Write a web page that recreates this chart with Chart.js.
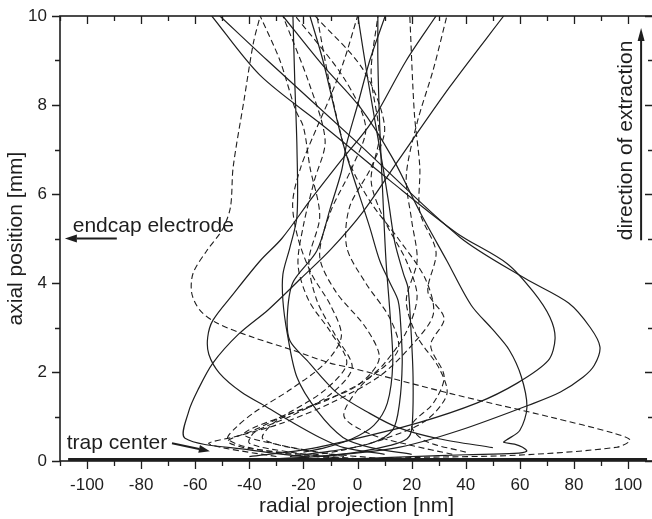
<!DOCTYPE html>
<html>
<head>
<meta charset="utf-8">
<script src="https://cdn.jsdelivr.net/npm/chart.js@4.4.1/dist/chart.umd.min.js"></script>
<style>
  html, body { margin: 0; padding: 0; background: #fff; overflow: hidden; }
  canvas { display: block; }
</style>
</head>
<body>
<canvas id="c" width="654" height="519"></canvas>
<script>
/* global Chart */

// axes (nm / mm)
const xRange = [-110, 109.2];
const yRange = [0, 10];
const xMajor = [-100, -80, -60, -40, -20, 0, 20, 40, 60, 80, 100];
const xMinor = [-110, -90, -70, -50, -30, -10, 10, 30, 50, 70, 90];
const yMajor = [0, 2, 4, 6, 8, 10];
const yMinor = [1, 3, 5, 7, 9];

// trajectories, [radial nm, axial mm]
const solid1 = [[-18, 0.08], [-40, 0.25], [-63.8, 0.51], [-62.5, 1.1], [-59, 1.6], [-53.5, 2.2], [-44, 2.85], [-33, 3.4], [-21, 4.1], [-10, 4.75], [2, 5.6], [15, 6.75], [34, 8.4], [54, 10]];
const solid2 = [[10, 0.15], [-5, 0.3], [-14, 0.53], [-25, 0.9], [-33.5, 1.21], [-43, 1.55], [-51, 1.97], [-55, 2.4], [-55.4, 2.78], [-53.5, 3.16], [-46, 3.75], [-36, 4.5], [-28, 5.0], [-17, 5.9], [-6, 6.76], [5, 7.6], [18, 9], [29, 10]];
const solid3 = [[50, 0.3], [30, 0.5], [15, 0.75], [4.5, 1.07], [-7.6, 1.53], [-18.7, 2.26], [-25, 2.7], [-26, 3.23], [-24, 4.0], [-15, 4.73], [-10, 5.7], [-6, 6.5], [-4, 7.14], [0, 8.0], [4.5, 9], [10.2, 10]];
const solid4 = [[20, 0.15], [5, 0.3], [-5.4, 0.53], [-15, 1.13], [-22.4, 1.88], [-26, 2.87], [-27.6, 3.6], [-27.6, 4.2], [-25, 4.8], [-22.4, 5.5], [-22.4, 7], [-23.2, 8.5], [-23.9, 10]];
const solid5 = [[-40, 0.1], [-20, 0.25], [-2.8, 0.47], [22, 0.85], [44, 1.3], [59, 1.75], [70.5, 2.26], [73, 2.75], [71.1, 3.23], [65, 3.8], [55.2, 4.44], [36.7, 5.12], [12, 6.3], [-12, 7.5], [-36.1, 8.67], [-53.9, 10]];
const solid6 = [[-30, 0.05], [-10, 0.12], [15.6, 0.31], [37.8, 0.69], [64.8, 1.29], [75, 1.55], [83.3, 1.88], [87.5, 2.15], [89.6, 2.56], [86, 3.0], [78, 3.55], [62, 4.1], [37.8, 5.03], [0, 7.15], [-33.5, 9.01], [-50.9, 10]];
const solid7 = [[0, 0.05], [20, 0.1], [40, 0.14], [58, 0.17], [62.5, 0.22], [61, 0.31], [58, 0.38], [54, 0.42], [55, 0.47], [60, 0.69], [62.6, 1.21], [60.5, 1.9], [56, 2.5], [50, 2.95], [42, 3.5], [33, 4.5], [23, 5.6], [13, 6.8], [0.9, 7.95], [-13, 8.9], [-27.6, 10]];
const solid8 = [[-25, 0.1], [-10, 0.22], [5, 0.4], [13, 0.7], [15.5, 1.3], [16.5, 2.2], [16, 3.0], [15, 3.6], [12, 4.0], [8.2, 4.5], [4.5, 5.25], [-5.4, 7.14], [-12.8, 9], [-17.6, 10]];
const solid9 = [[-15, 0.1], [0, 0.2], [12, 0.35], [18.3, 0.5], [20.1, 0.75], [20.5, 1.9], [19.5, 3.2], [18.6, 3.9], [17, 4.2], [13.8, 4.9], [11.5, 5.8], [9.4, 6.6], [4, 8.5], [0.1, 10]];
const solid10 = [[-20, 0.2], [-12, 0.3], [-2, 0.5], [6, 0.8], [11, 1.3], [13, 2.2], [12, 3.3], [10.5, 4.5], [9.3, 6.0], [8.2, 7.5], [7.5, 9], [7.5, 10]];
const trapBand = [[-107, 0.02], [107, 0.02]];

const dashed1 = [[0, 0.04], [21.9, 0.08], [58.9, 0.13], [95.9, 0.31], [100.7, 0.47], [95, 0.62], [71.1, 0.99], [34.1, 1.52], [-2.8, 2.1], [-10.2, 2.2], [-23.9, 2.49], [-38.7, 2.78], [-52, 3.1], [-58.3, 3.39], [-61.3, 3.77], [-60.8, 4.22], [-55.7, 4.73], [-50, 5.2], [-47, 5.7], [-46, 6.6], [-42, 8.1], [-38.5, 9.4], [-36, 10]];
const dashed2 = [[0, 0.05], [-20, 0.15], [-42, 0.3], [-48, 0.45], [-38, 0.7], [-25, 1.1], [-12, 1.6], [-4, 2.2], [-10, 2.9], [-18, 3.6], [-22, 4.4], [-20, 5.3], [-16, 6.3], [-12, 7.2], [-18, 8.5], [-27.6, 10]];
const dashed3 = [[10, 0.05], [-15, 0.2], [-35, 0.5], [-30, 0.9], [-15, 1.3], [0, 1.7], [8, 2.3], [3, 3.0], [-8, 3.8], [-14, 4.6], [-10, 5.6], [-2, 6.6], [3, 7.5], [-5, 8.6], [-23, 10]];
const dashed4 = [[-5, 0.1], [-28, 0.35], [-42, 0.6], [-30, 0.95], [-12, 1.35], [5, 1.9], [15, 2.5], [12, 3.2], [3, 4.0], [-4, 4.8], [-3, 5.7], [5, 6.6], [10, 7.5], [2, 8.8], [-15.7, 10]];
const dashed5 = [[0, 0.05], [-20, 0.12], [-40, 0.3], [-48, 0.5], [-45, 0.75], [-38, 1.1], [-25, 1.6], [-12, 2.2], [-6, 2.8], [-10, 3.5], [-17, 4.2], [-22, 5.0], [-24, 5.8], [-21, 6.6], [-15, 7.5], [-10, 8.2], [-5, 9.0], [0, 10]];
const dashed6 = [[35, 0.15], [20, 0.35], [5, 0.6], [-5, 1.0], [0, 1.6], [10, 2.2], [18, 2.9], [22, 3.7], [18, 4.5], [10, 5.4], [5, 6.3], [8, 7.3], [5, 8.7], [7.5, 10]];
const dashed7 = [[40, 0.2], [25, 0.45], [20, 0.8], [28, 1.3], [32, 1.9], [27, 2.6], [32, 3.2], [26, 3.8], [29, 4.7], [23, 5.6], [23, 6.6], [21, 7.8], [19.3, 10]];
const dashed8 = [[-20, 0.1], [-5, 0.25], [10, 0.5], [25, 0.9], [33, 1.5], [30, 2.1], [22, 2.8], [18, 3.6], [22, 4.5], [20, 5.4], [18, 6.4], [22, 7.6], [28, 8.8], [33, 10]];
const dashed9 = [[-30, 0.1], [-50, 0.3], [-55, 0.4], [-45, 0.55], [-28, 0.85], [-10, 1.3], [8, 1.9], [20, 2.6], [28, 3.3], [25, 4.1], [15, 5.0], [5, 5.8], [-3, 6.7], [-8, 7.8], [-12, 9], [-15, 10]];
const dashed10 = [[-5, 0.05], [-25, 0.2], [-40, 0.4], [-38, 0.65], [-25, 1.0], [-10, 1.5], [-2, 2.1], [-8, 2.8], [-15, 3.6], [-18, 4.5], [-14, 5.5], [-17.6, 6.6], [-20, 7.5], [-23, 7.9], [-28.7, 9], [-36, 10]];

const solidTracks = [solid1, solid2, solid3, solid4, solid5, solid6, solid7, solid8, solid9, solid10];
const dashedTracks = [dashed1, dashed2, dashed3, dashed4, dashed5, dashed6, dashed7, dashed8, dashed9, dashed10];

// annotations (data coords)
const endcapText = { text: "endcap electrode", x: -105.3, y: 5.14 };
const endcapArrow = { from: [-89, 5.0], to: [-108.2, 5.0] };
const trapText = { text: "trap center", x: -107.5, y: 0.26 };
const trapArrow = { from: [-68.6, 0.4], to: [-54.6, 0.22] };
const extractText = { text: "direction of extraction", x: 101.4, y: 4.96 };
const extractArrow = { from: [104.8, 4.96], to: [104.8, 9.73] };

const FONT = "'Liberation Sans', Arial, Helvetica, sans-serif";
const INK = "#1e1e1e";

function toXY(pts) {
  return pts.map((p) => ({ x: p[0], y: p[1] }));
}

const datasets = [];
for (const t of solidTracks) {
  datasets.push({ data: toXY(t), borderColor: INK, borderWidth: 1.2, tension: 0.3 });
}
for (const t of dashedTracks) {
  datasets.push({ data: toXY(t), borderColor: INK, borderWidth: 1.1, borderDash: [6, 3.5], tension: 0.3 });
}
datasets.push({ data: toXY(trapBand), borderColor: INK, borderWidth: 4, tension: 0 });

function drawArrow(ctx, x0, y0, x1, y1, len, half, lw) {
  const ang = Math.atan2(y1 - y0, x1 - x0);
  const bx = x1 - Math.cos(ang) * len;
  const by = y1 - Math.sin(ang) * len;
  ctx.lineWidth = lw;
  ctx.beginPath();
  ctx.moveTo(x0, y0);
  ctx.lineTo(bx, by);
  ctx.stroke();
  ctx.beginPath();
  ctx.moveTo(x1, y1);
  ctx.lineTo(bx + Math.sin(ang) * half, by - Math.cos(ang) * half);
  ctx.lineTo(bx - Math.sin(ang) * half, by + Math.cos(ang) * half);
  ctx.closePath();
  ctx.fill();
}

const framePlugin = {
  id: "frame",
  afterDatasetsDraw(chart) {
    const { ctx, chartArea: a, scales } = chart;
    const x = scales.x;
    const y = scales.y;
    ctx.save();
    ctx.strokeStyle = INK;
    ctx.fillStyle = INK;
    ctx.lineWidth = 1.6;
    ctx.strokeRect(a.left, a.top, a.right - a.left, a.bottom - a.top);

    ctx.lineWidth = 1.3;
    ctx.beginPath();
    const xt = xMajor.map((v) => [v, 8]).concat(xMinor.map((v) => [v, 5]));
    for (const [v, len] of xt) {
      const px = Math.round(x.getPixelForValue(v)) + 0.5;
      ctx.moveTo(px, a.bottom);
      ctx.lineTo(px, a.bottom + len);
      ctx.moveTo(px, a.top);
      ctx.lineTo(px, a.top + len);
    }
    const yt = yMajor.map((v) => [v, 8]).concat(yMinor.map((v) => [v, 5]));
    for (const [v, len] of yt) {
      const py = Math.round(y.getPixelForValue(v)) + 0.5;
      ctx.moveTo(a.left, py);
      ctx.lineTo(a.left - len, py);
      ctx.moveTo(a.right, py);
      ctx.lineTo(a.right - len, py);
    }
    ctx.stroke();

    // annotations
    ctx.font = "21px " + FONT;
    ctx.textBaseline = "alphabetic";
    ctx.textAlign = "left";
    ctx.fillText(endcapText.text, x.getPixelForValue(endcapText.x), y.getPixelForValue(endcapText.y));
    ctx.fillText(trapText.text, x.getPixelForValue(trapText.x), y.getPixelForValue(trapText.y));

    ctx.save();
    ctx.translate(x.getPixelForValue(extractText.x), y.getPixelForValue(extractText.y));
    ctx.rotate(-Math.PI / 2);
    ctx.fillText(extractText.text, 0, 0);
    ctx.restore();

    const arrows = [
      [endcapArrow, 12, 4, 2],
      [trapArrow, 11, 4, 2],
      [extractArrow, 13, 3.5, 2],
    ];
    for (const [ar, len, half, lw] of arrows) {
      drawArrow(
        ctx,
        x.getPixelForValue(ar.from[0]),
        y.getPixelForValue(ar.from[1]),
        x.getPixelForValue(ar.to[0]),
        y.getPixelForValue(ar.to[1]),
        len,
        half,
        lw
      );
    }
    ctx.restore();
  },
};

new Chart(document.getElementById("c"), {
  type: "scatter",
  data: { datasets },
  options: {
    responsive: false,
    animation: false,
    events: [],
    showLine: true,
    elements: { point: { radius: 0 } },
    layout: { padding: { top: 16, right: 1, left: 0, bottom: 0 } },
    plugins: { legend: { display: false }, tooltip: { enabled: false } },
    scales: {
      x: {
        type: "linear",
        min: xRange[0],
        max: xRange[1],
        afterBuildTicks: (s) => {
          s.ticks = xMajor.map((v) => ({ value: v }));
        },
        afterFit: (s) => {
          s.height = 58;
          s.paddingLeft = 0;
          s.paddingRight = 0;
        },
        grid: { display: false, drawTicks: false },
        border: { display: false },
        ticks: {
          autoSkip: false,
          maxRotation: 0,
          padding: 14,
          color: INK,
          font: { family: FONT, size: 17 },
        },
        title: {
          display: true,
          text: "radial projection [nm]",
          color: INK,
          font: { family: FONT, size: 21 },
          padding: { top: 0, bottom: 0 },
        },
      },
      y: {
        type: "linear",
        min: yRange[0],
        max: yRange[1],
        afterBuildTicks: (s) => {
          s.ticks = yMajor.map((v) => ({ value: v }));
        },
        afterFit: (s) => {
          s.width = 60;
          s.paddingTop = 0;
          s.paddingBottom = 0;
        },
        grid: { display: false, drawTicks: false },
        border: { display: false },
        ticks: {
          autoSkip: false,
          padding: 13,
          color: INK,
          font: { family: FONT, size: 17 },
        },
        title: {
          display: true,
          text: "axial position [mm]",
          color: INK,
          font: { family: FONT, size: 21 },
          padding: { top: 4, bottom: 0 },
        },
      },
    },
  },
  plugins: [framePlugin],
});
</script>
</body>
</html>
